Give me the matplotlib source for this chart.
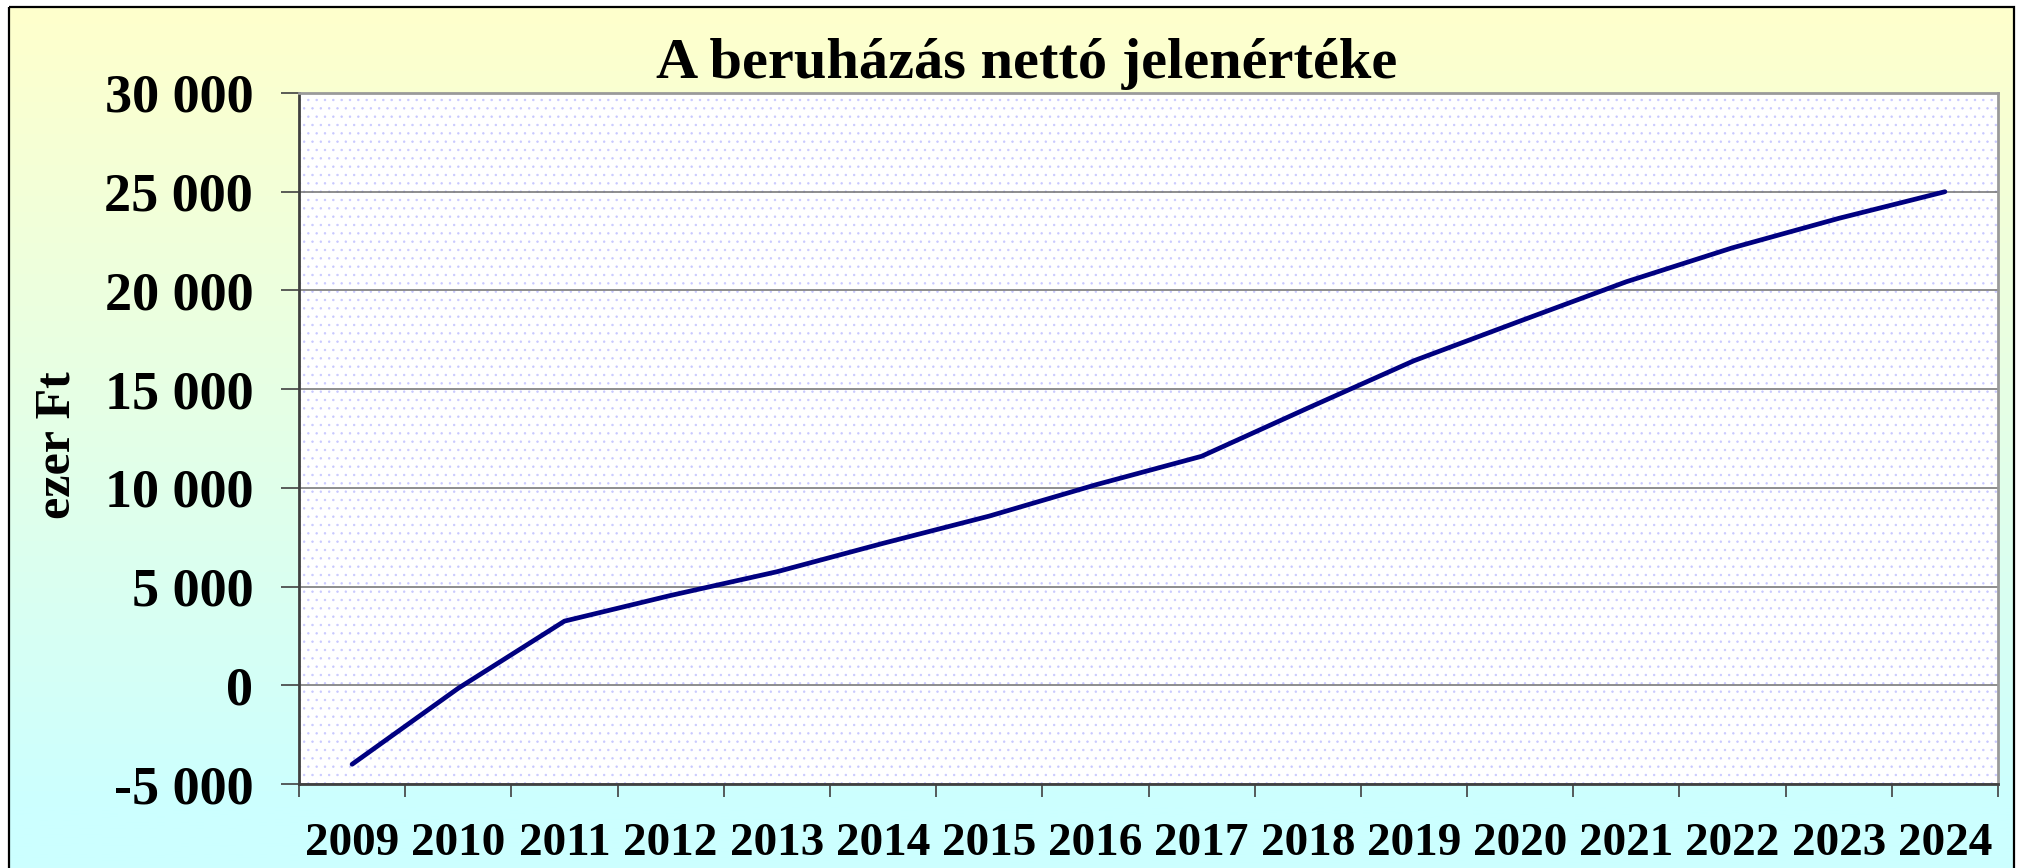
import numpy as np
import matplotlib
matplotlib.use("Agg")
import matplotlib.pyplot as plt
from matplotlib.patches import Rectangle

plt.rcParams['font.family'] = ['Liberation Serif', 'DejaVu Serif']
plt.rcParams['font.weight'] = 'bold'
plt.rcParams['hatch.linewidth'] = 0.5

# adatok (ezer Ft)
evek = [str(e) for e in range(2009, 2025)]
npv = [-4000, -150, 3250, 4550, 5750, 7190, 8570, 10150,
       11600, 14040, 16440, 18450, 20440, 22160, 23650, 25000]
y_ticks = [-5000, 0, 5000, 10000, 15000, 20000, 25000, 30000]

W, H = 2020, 868
fig = plt.figure(figsize=(W / 100, H / 100), dpi=100)

# háttér: sárgából türkizbe átmenő színátmenet, fekete kerettel
bg = fig.add_axes([0, 0, 1, 1], zorder=0)
bg.set_xlim(0, W)
bg.set_ylim(H, 0)
bg.axis('off')
t = np.clip(np.linspace(0, 1.1, 300), 0, 1)[:, None]
top = np.array([1.0, 1.0, 0.8])
bot = np.array([0.8, 1.0, 1.0])
grad = (top * (1 - t) + bot * t)[:, None, :]
bg.imshow(grad, extent=[9, 2014, H + 20, 7], aspect='auto', zorder=0)
bg.add_patch(Rectangle((9, 7), 2005, H + 20, fill=False, ec='black', lw=1.6, zorder=1))

# diagram terület
ax = fig.add_axes([299 / W, 1 - 784 / H, (1998 - 299) / W, (784 - 93) / H], zorder=1)
ax.set_facecolor('white')
ax.add_patch(Rectangle((0, 0), 1, 1, transform=ax.transAxes, facecolor='none',
                       edgecolor='#c8c8ff', hatch='..', lw=0, zorder=0))

x = np.arange(len(evek))
ax.plot(x, npv, color='#000080', lw=3.4, solid_capstyle='round', zorder=3)

ax.set_xlim(-0.5, len(evek) - 0.5)
ax.set_ylim(-5000, 30000)

ax.set_xticks(np.arange(-0.5, len(evek), 1))
ax.set_xticklabels([])
ax.set_xticks(x, minor=True)
ax.set_xticklabels(evek, minor=True, fontsize=34, fontweight='bold')
ax.tick_params(axis='x', which='major', length=9.5, width=1.2, color='#404040', direction='out')
ax.tick_params(axis='x', which='minor', length=0, pad=28)

ax.set_yticks(y_ticks)
ax.set_yticklabels([f"{v:,}".replace(',', ' ') for v in y_ticks], fontsize=39, fontweight='bold')
ax.tick_params(axis='y', length=13, width=1.2, color='#404040', direction='out', pad=20)

ax.yaxis.grid(True, color='#7a7a7a', lw=1.2)
ax.set_axisbelow(True)

for s in ['left', 'bottom']:
    ax.spines[s].set_color('#404040')
    ax.spines[s].set_linewidth(2)
for s in ['top', 'right']:
    ax.spines[s].set_color('#9a9a9a')
    ax.spines[s].set_linewidth(2)

fig.text(1027 / W, 1 - 78 / H, 'A beruházás nettó jelenértéke', ha='center', va='baseline',
         fontsize=42, fontweight='bold')
fig.text(57 / W, 1 - 445 / H, 'ezer Ft', rotation=90, ha='center', va='center',
         fontsize=36, fontweight='bold')

fig.savefig('out.png', dpi=100)
